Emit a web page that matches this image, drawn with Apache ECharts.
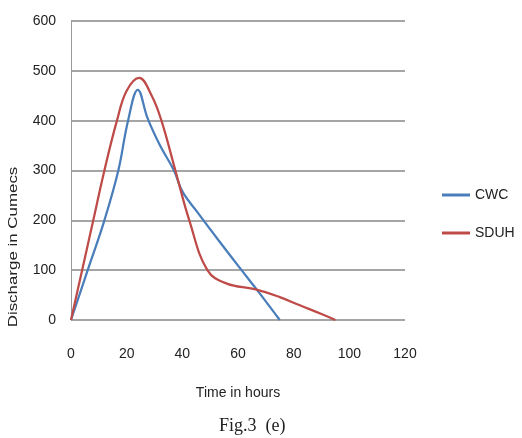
<!DOCTYPE html>
<html>
<head>
<meta charset="utf-8">
<title>Fig.3 (e)</title>
<script src="https://cdn.jsdelivr.net/npm/echarts@6/dist/echarts.min.js"></script>
<style>
	body{margin:0;background:#fff;}
	#main{width:522px;height:438px;}
</style>
</head>
<body>
<div id="main"></div>
<script>
// hydrograph points (hours, cumecs)
var cwcHours  = [0, 6, 12, 17, 20.5, 24, 27.5, 32, 37, 40, 46, 53, 61, 68, 75];
var cwcQ      = [0, 100, 200, 300, 400, 462, 405, 350, 300, 258, 212, 160, 102, 52, 0];
var sduhHours = [0, 4, 8, 12, 16.5, 20, 24.5, 29, 32.5, 37.5, 42.5, 49, 56, 66, 75, 82, 90, 95];
var sduhQ     = [0, 100, 200, 300, 400, 460, 486, 450, 400, 300, 200, 100, 73, 62, 46, 30, 12, 0];
var xTicks = [0, 20, 40, 60, 80, 100, 120];
var yTicks = [0, 100, 200, 300, 400, 500, 600];

function pairs(xs, ys){
	var out = [];
	for (var i = 0; i < xs.length; i++) out.push([xs[i], ys[i]]);
	return out;
}

var font = "'Liberation Sans Narrow', 'Liberation Sans', sans-serif";
var myChart = echarts.init(document.getElementById('main'));

var option = {
	backgroundColor: '#fff',
	animation: false,
	title: {
		text: 'Fig.3  (e)',
		left: 214, top: 412,
		textStyle: {fontFamily: "'Liberation Serif', serif", fontSize: 18, fontWeight: 'normal', color: '#222'}
	},
	grid: {left: 71, right: 117, top: 21, bottom: 118},
	legend: {
		orient: 'vertical',
		left: 437, top: 183,
		itemWidth: 28, itemHeight: 3, itemGap: 24,
		icon: 'rect',
		data: ['CWC', 'SDUH'],
		textStyle: {fontFamily: font, fontSize: 14, color: '#222'}
	},
	xAxis: {
		type: 'value',
		min: xTicks[0], max: xTicks[xTicks.length - 1], interval: 20,
		name: 'Time in hours',
		nameLocation: 'middle', nameGap: 66,
		nameTextStyle: {fontFamily: font, fontSize: 14, color: '#222'},
		axisLine: {show: false},
		axisTick: {show: false},
		splitLine: {show: false},
		axisLabel: {margin: 27, fontFamily: font, fontSize: 14, color: '#222'}
	},
	yAxis: {
		type: 'value',
		min: yTicks[0], max: yTicks[yTicks.length - 1], interval: 100,
		axisLine: {show: true, lineStyle: {color: '#9a9a9a', width: 1}},
		axisTick: {show: false},
		splitLine: {lineStyle: {color: '#878787', width: 1.5}},
		axisLabel: {margin: 15, fontFamily: font, fontSize: 14, color: '#222'}
	},
	graphic: [{
		type: 'text',
		x: 13, y: 247,
		rotation: Math.PI / 2,
		scaleX: 1.3,
		style: {
			text: 'Discharge in Cumecs',
			fontFamily: font, fontSize: 13, fill: '#222',
			align: 'center', verticalAlign: 'middle'
		}
	}],
	series: [{
		name: 'CWC',
		type: 'line',
		data: pairs(cwcHours, cwcQ),
		smooth: 0.4,
		showSymbol: false,
		color: '#4a7ebb',
		lineStyle: {width: 2.25, color: '#4a7ebb'}
	}, {
		name: 'SDUH',
		type: 'line',
		data: pairs(sduhHours, sduhQ),
		smooth: 0.4,
		showSymbol: false,
		color: '#be4b48',
		lineStyle: {width: 2.25, color: '#be4b48'}
	}]
};
myChart.setOption(option);
</script>
</body>
</html>
